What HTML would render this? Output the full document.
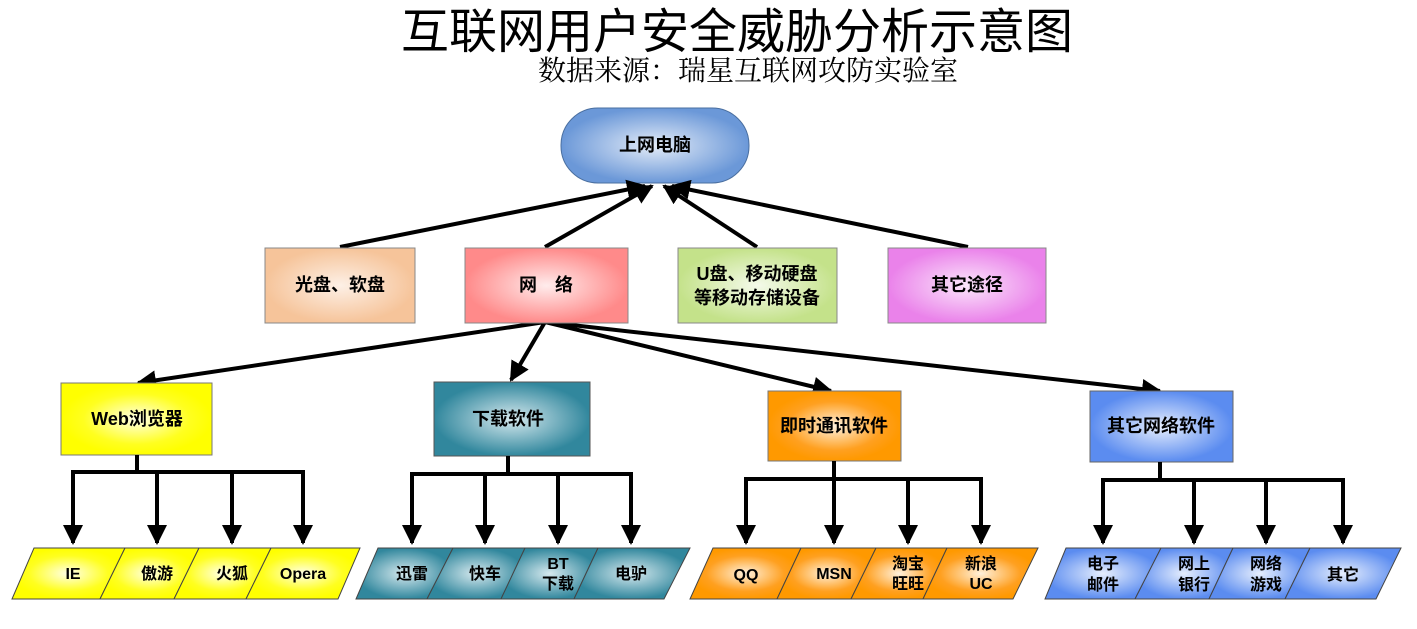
<!DOCTYPE html>
<html><head><meta charset="utf-8"><style>
body{margin:0;background:#fff;}
svg text{font-family:"Liberation Sans","Noto Sans CJK SC",sans-serif;font-weight:bold;text-anchor:middle;fill:#000;}
</style></head><body>
<svg width="1417" height="624" viewBox="0 0 1417 624" xmlns="http://www.w3.org/2000/svg">
<defs>
<radialGradient id="gb"><stop offset="0" stop-color="#e4ecf8"/><stop offset="1" stop-color="#6b98d8"/></radialGradient>
<radialGradient id="gp"><stop offset="0" stop-color="#fdf0e6"/><stop offset="1" stop-color="#f6c49a"/></radialGradient>
<radialGradient id="gr"><stop offset="0" stop-color="#ffecec"/><stop offset="1" stop-color="#ff8a8a"/></radialGradient>
<radialGradient id="gg"><stop offset="0" stop-color="#f4faea"/><stop offset="1" stop-color="#c4e28a"/></radialGradient>
<radialGradient id="gm"><stop offset="0" stop-color="#fbe6fb"/><stop offset="1" stop-color="#ea82ea"/></radialGradient>
<radialGradient id="gy"><stop offset="0" stop-color="#ffffe8"/><stop offset="0.7" stop-color="#ffff20"/><stop offset="1" stop-color="#ffff00"/></radialGradient>
<radialGradient id="gt"><stop offset="0" stop-color="#d6e9ee"/><stop offset="1" stop-color="#31879d"/></radialGradient>
<radialGradient id="go"><stop offset="0" stop-color="#fff1dc"/><stop offset="0.7" stop-color="#ffa020"/><stop offset="1" stop-color="#ff9900"/></radialGradient>
<radialGradient id="gl"><stop offset="0" stop-color="#e6eefd"/><stop offset="1" stop-color="#5b8cf0"/></radialGradient>
<marker id="a" markerWidth="5" markerHeight="5" refX="4.5" refY="2.5" orient="auto" markerUnits="strokeWidth"><path d="M0,0L5,2.5L0,5z" fill="#000"/></marker>
</defs>
<text x="737" y="48" style="font-size:48px;font-weight:normal">互联网用户安全威胁分析示意图</text>
<text x="748" y="80" style="font-size:28px;font-weight:normal;font-family:'Liberation Serif','Noto Serif CJK SC',serif">数据来源：瑞星互联网攻防实验室</text>

<rect x="561" y="108" width="188" height="75" rx="37" fill="url(#gb)" stroke="#4a6fa0"/>
<text x="655" y="151" style="font-size:18px">上网电脑</text>

<g stroke="#000" stroke-width="4" fill="none" marker-end="url(#a)">
<line x1="340" y1="247" x2="645" y2="186"/>
<line x1="545" y1="247" x2="652" y2="186"/>
<line x1="757" y1="247" x2="664" y2="186"/>
<line x1="968" y1="247" x2="672" y2="186"/>
<line x1="545" y1="322" x2="138" y2="383"/>
<line x1="545" y1="322" x2="511" y2="380"/>
<line x1="545" y1="322" x2="831" y2="391"/>
<line x1="545" y1="322" x2="1160" y2="391"/>
</g>

<rect x="265" y="248" width="150" height="75" fill="url(#gp)" stroke="#888"/>
<text x="340" y="291" style="font-size:18px">光盘、软盘</text>
<rect x="465" y="248" width="163" height="75" fill="url(#gr)" stroke="#888"/>
<text x="546" y="291" style="font-size:18px">网　络</text>
<rect x="678" y="248" width="159" height="75" fill="url(#gg)" stroke="#888"/>
<text x="757" y="280" style="font-size:18px">U盘、移动硬盘</text>
<text x="757" y="304" style="font-size:18px">等移动存储设备</text>
<rect x="888" y="248" width="158" height="75" fill="url(#gm)" stroke="#888"/>
<text x="967" y="291" style="font-size:18px">其它途径</text>

<rect x="61" y="383" width="151" height="72" fill="url(#gy)" stroke="#777"/>
<text x="137" y="425" style="font-size:18px">Web浏览器</text>
<rect x="434" y="382" width="156" height="74" fill="url(#gt)" stroke="#555"/>
<text x="508" y="425" style="font-size:18px">下载软件</text>
<rect x="768" y="391" width="133" height="70" fill="url(#go)" stroke="#777"/>
<text x="834" y="432" style="font-size:18px">即时通讯软件</text>
<rect x="1090" y="391" width="143" height="71" fill="url(#gl)" stroke="#666"/>
<text x="1161" y="432" style="font-size:18px">其它网络软件</text>

<g stroke="#000" stroke-width="4" fill="none">
<path d="M137,455V472M71,472H305M508,456V474M410,474H633M834,461V479M744,479H983M1160,462V480M1101,480H1345"/>
</g>
<g stroke="#000" stroke-width="4" fill="none" marker-end="url(#a)">
<line x1="73" y1="472" x2="73" y2="543"/><line x1="157" y1="472" x2="157" y2="543"/><line x1="232" y1="472" x2="232" y2="543"/><line x1="303" y1="472" x2="303" y2="543"/>
<line x1="412" y1="474" x2="412" y2="543"/><line x1="485" y1="474" x2="485" y2="543"/><line x1="558" y1="474" x2="558" y2="543"/><line x1="631" y1="474" x2="631" y2="543"/>
<line x1="746" y1="479" x2="746" y2="543"/><line x1="834" y1="479" x2="834" y2="543"/><line x1="908" y1="479" x2="908" y2="543"/><line x1="981" y1="479" x2="981" y2="543"/>
<line x1="1103" y1="480" x2="1103" y2="543"/><line x1="1194" y1="480" x2="1194" y2="543"/><line x1="1266" y1="480" x2="1266" y2="543"/><line x1="1343" y1="480" x2="1343" y2="543"/>
</g>

<g stroke="#444" stroke-width="1">
<polygon points="34,548 125,548 100,599 12,599" fill="url(#gy)"/>
<polygon points="125,548 199,548 174,599 100,599" fill="url(#gy)"/>
<polygon points="199,548 271,548 246,599 174,599" fill="url(#gy)"/>
<polygon points="271,548 360,548 338,599 246,599" fill="url(#gy)"/>
<polygon points="378,548 453,548 427,599 356,599" fill="url(#gt)"/>
<polygon points="453,548 525,548 501,599 427,599" fill="url(#gt)"/>
<polygon points="525,548 598,548 574,599 501,599" fill="url(#gt)"/>
<polygon points="598,548 690,548 664,599 574,599" fill="url(#gt)"/>
<polygon points="713,548 801,548 777,599 690,599" fill="url(#go)"/>
<polygon points="801,548 876,548 851,599 777,599" fill="url(#go)"/>
<polygon points="876,548 947,548 923,599 851,599" fill="url(#go)"/>
<polygon points="947,548 1038,548 1013,599 923,599" fill="url(#go)"/>
<polygon points="1066,548 1161,548 1135,599 1045,599" fill="url(#gl)"/>
<polygon points="1161,548 1233,548 1209,599 1135,599" fill="url(#gl)"/>
<polygon points="1233,548 1310,548 1285,599 1209,599" fill="url(#gl)"/>
<polygon points="1310,548 1401,548 1376,599 1285,599" fill="url(#gl)"/>
</g>
<g style="font-size:16px">
<text x="73" y="579">IE</text><text x="157" y="579">傲游</text><text x="232" y="579">火狐</text><text x="303" y="579">Opera</text>
<text x="412" y="579">迅雷</text><text x="485" y="579">快车</text><text x="558" y="569">BT</text><text x="558" y="589">下载</text><text x="631" y="579">电驴</text>
<text x="746" y="580">QQ</text><text x="834" y="579">MSN</text><text x="908" y="569">淘宝</text><text x="908" y="589">旺旺</text><text x="981" y="569">新浪</text><text x="981" y="589">UC</text>
<text x="1103" y="569">电子</text><text x="1103" y="590">邮件</text><text x="1194" y="569">网上</text><text x="1194" y="590">银行</text><text x="1266" y="569">网络</text><text x="1266" y="590">游戏</text><text x="1343" y="580">其它</text>
</g>
</svg>
</body></html>
